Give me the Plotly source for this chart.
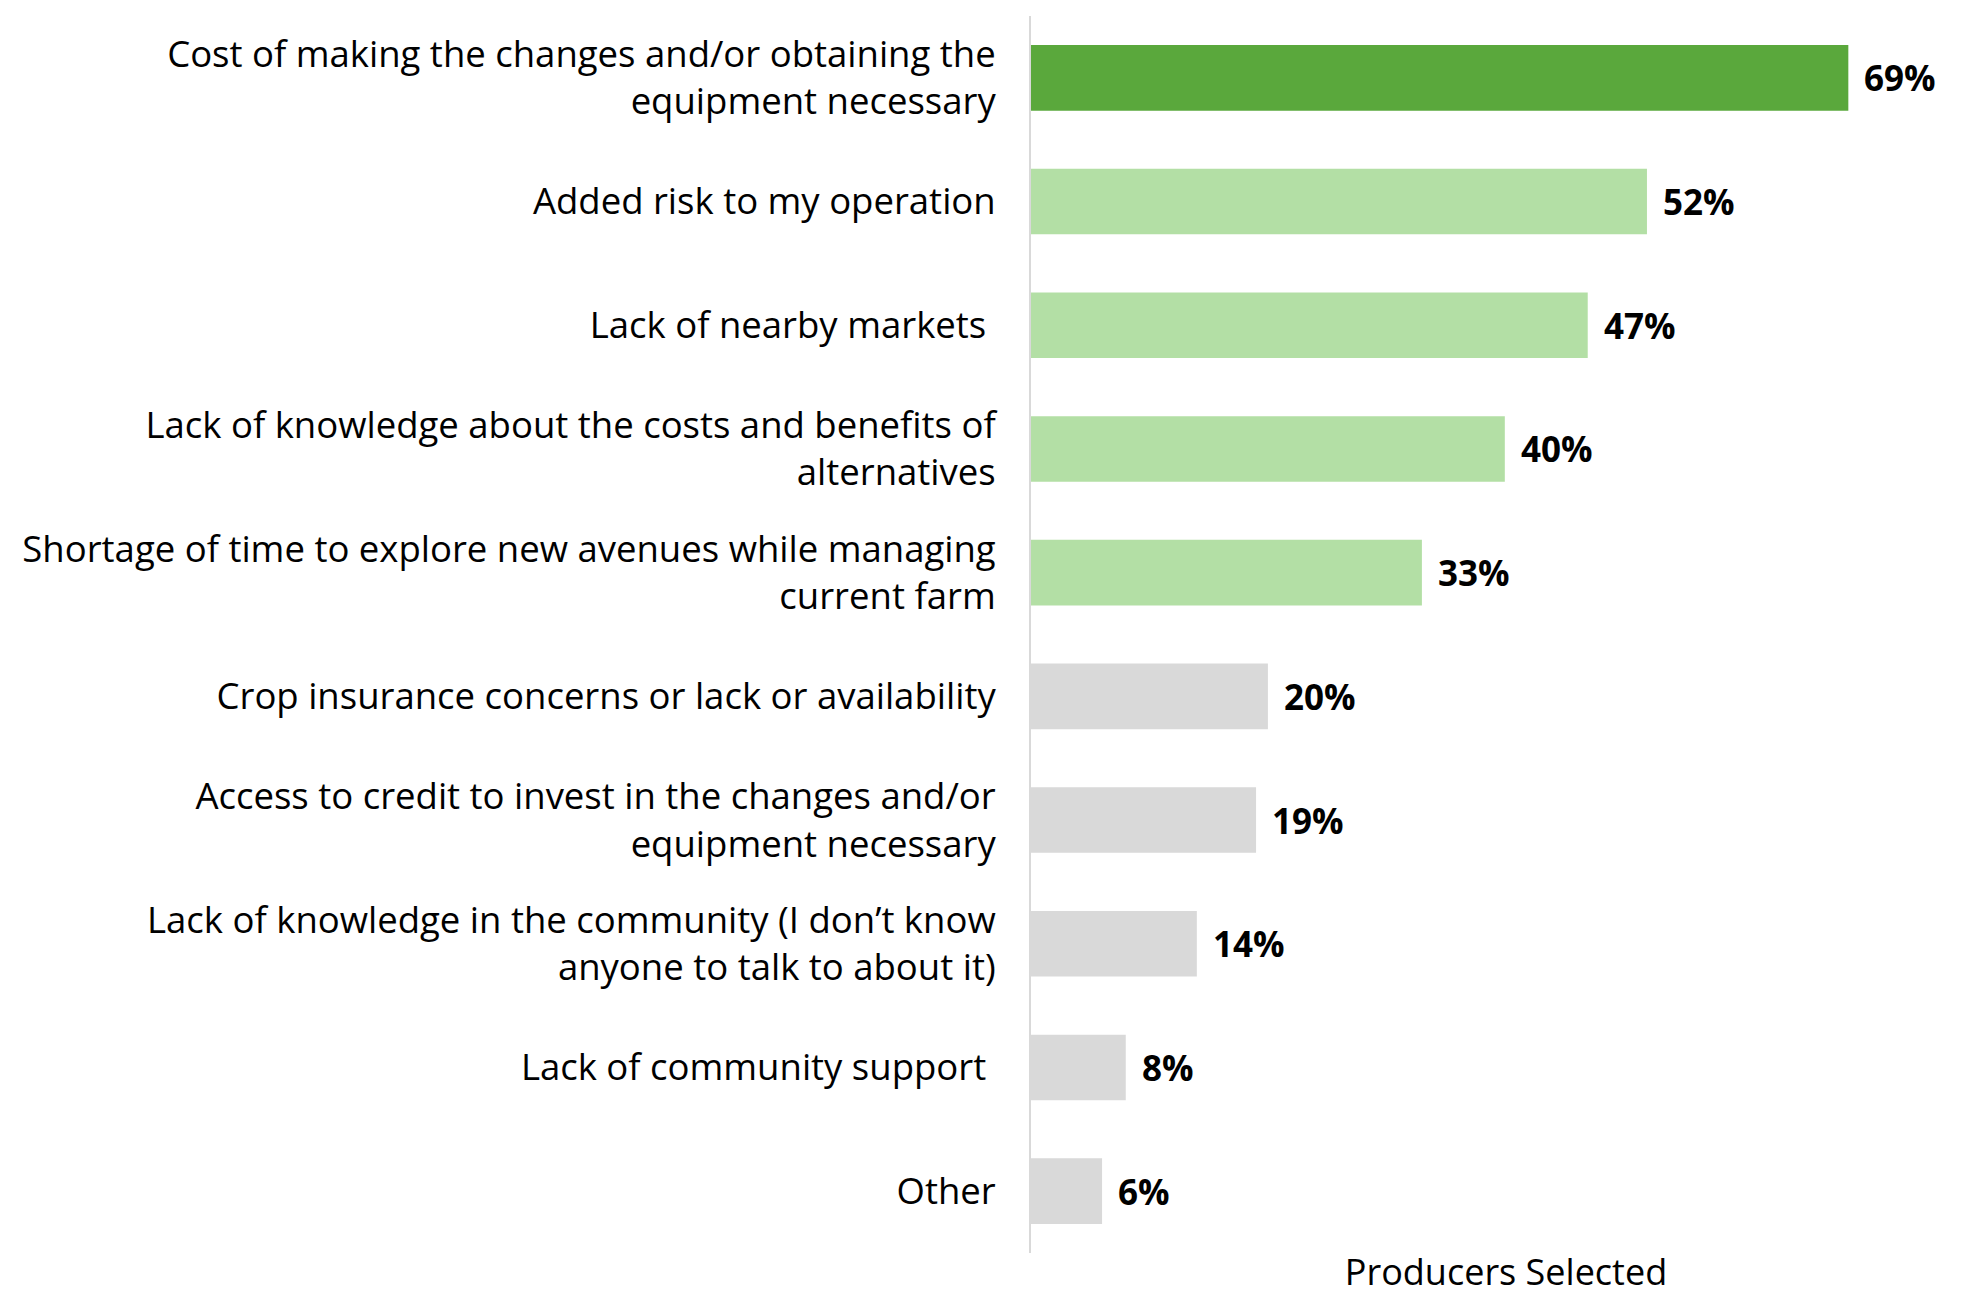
import plotly.graph_objects as go

categories = [
    "Cost of making the changes and/or obtaining the<br>equipment necessary",
    "Added risk to my operation",
    "Lack of nearby markets\u00a0",
    "Lack of knowledge about the costs and benefits of<br>alternatives",
    "Shortage of time to explore new avenues while managing<br>current farm",
    "Crop insurance concerns or lack or availability",
    "Access to credit to invest in the changes and/or<br>equipment necessary",
    "Lack of knowledge in the community (I don\u2019t know<br>anyone to talk to about it)",
    "Lack of community support\u00a0",
    "Other",
]
values = [69, 52, 47, 40, 33, 20, 19, 14, 8, 6]
colors = ["#5AA83C"] + ["#B3DFA5"] * 4 + ["#D9D9D9"] * 5
value_labels = [f"{v}%" for v in values]

FONT = "Open Sans"

fig = go.Figure()
fig.add_trace(go.Bar(
    x=values,
    y=categories,
    orientation="h",
    marker=dict(color=colors, line=dict(width=0)),
    hoverinfo="skip",
))

for c, v, t in zip(categories, values, value_labels):
    fig.add_annotation(
        x=v, y=c, text=f"<b>{t}</b>", showarrow=False,
        xanchor="left", xshift=14, yanchor="middle",
        font=dict(family=FONT, size=35, color="#000000"),
    )

fig.update_layout(
    width=1987, height=1297,
    paper_bgcolor="white", plot_bgcolor="white",
    margin=dict(l=1023, r=14, t=8, b=52),
    showlegend=False,
    bargap=0.47,
    xaxis=dict(
        range=[0, 80.2], showgrid=False, zeroline=False, showticklabels=False,
        ticks="", showline=False,
        title=dict(text="Producers Selected", font=dict(family=FONT, size=36, color="#000000"), standoff=6),
    ),
    yaxis=dict(
        autorange="reversed", showgrid=False, zeroline=False,
        showline=True, linecolor="#D9D9D9", linewidth=2,
        ticks="", ticklabelstandoff=26,
        tickfont=dict(family=FONT, size=36.5, color="#000000"),
    ),
)

fig.write_html("out.html")
